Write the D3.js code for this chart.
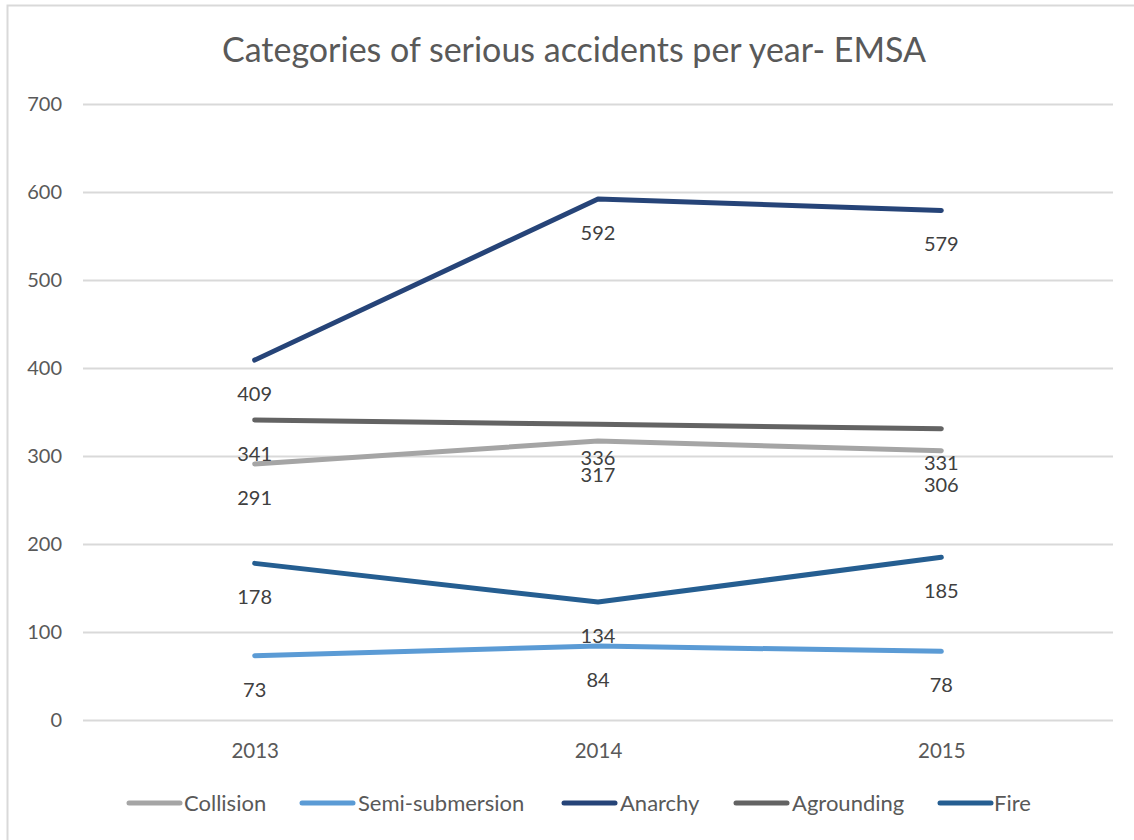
<!DOCTYPE html>
<html><head><meta charset="utf-8">
<script src="https://cdn.jsdelivr.net/npm/d3@7"></script>
<style>body{margin:0;background:#fff}svg{display:block}text{font-family:Lato,"Open Sans",sans-serif}</style>
</head><body><div id="chart"></div>
<script>
const years = ["2013", "2014", "2015"];
const seriesNames = ["Collision", "Semi-submersion", "Anarchy", "Agrounding", "Fire"];
const collision = [291, 317, 306];
const semiSubmersion = [73, 84, 78];
const anarchy = [409, 592, 579];
const agrounding = [341, 336, 331];
const fire = [178, 134, 185];
const yTicks = [0, 100, 200, 300, 400, 500, 600, 700];
const colors = ["#A5A5A5", "#5B9BD5", "#264478", "#636363", "#255E91"];
const title = "Categories of serious accidents per year- EMSA";

(function () {
const series = [collision, semiSubmersion, anarchy, agrounding, fire].map((v, i) => ({name: seriesNames[i], values: v, color: colors[i]}));

const W = 1134, H = 840;
const svg = d3.select("#chart").append("svg").attr("width", W).attr("height", H);
svg.append("rect").attr("x", 7.5).attr("y", 5.5).attr("width", W + 10).attr("height", H + 10)
  .attr("fill", "#fff").attr("stroke", "#D9D9D9").attr("stroke-width", 2);

const mL = 83, mR = 1113, mT = 104, mB = 720;
const x = d3.scalePoint().domain(years).range([mL, mR]).padding(0.5);
const y = d3.scaleLinear().domain([0, 700]).range([mB, mT]);

svg.append("text").attr("x", 574).attr("y", 62).attr("text-anchor", "middle")
  .attr("font-size", 34).attr("fill", "#595959").text(title);

const gy = svg.append("g").attr("transform", `translate(${mL},0)`)
  .call(d3.axisLeft(y).tickValues(yTicks).tickSize(-(mR - mL)).tickPadding(21));
gy.select(".domain").remove();
gy.selectAll(".tick line").attr("stroke", "#D9D9D9").attr("stroke-width", 2);
gy.selectAll(".tick text").attr("font-size", 20).attr("fill", "#595959").attr("font-family", "Lato");

const gx = svg.append("g").attr("transform", `translate(0,${mB})`)
  .call(d3.axisBottom(x).tickSize(0).tickPadding(23));
gx.select(".domain").remove();
gx.selectAll(".tick text").attr("font-size", 20.5).attr("fill", "#595959").attr("font-family", "Lato");

const line = d3.line().x((d, i) => x(years[i])).y(d => y(d));
series.forEach(s => {
  svg.append("path").datum(s.values).attr("d", line).attr("fill", "none")
    .attr("stroke", s.color).attr("stroke-width", 5).attr("stroke-linecap", "round").attr("stroke-linejoin", "round");
});
series.forEach(s => {
  svg.append("g").selectAll("text").data(s.values).join("text")
    .attr("x", (d, i) => x(years[i])).attr("y", d => y(d) + 41)
    .attr("text-anchor", "middle").attr("font-size", 20).attr("fill", "#404040").text(d => d);
});

const legendItems = [
  {sx: 126, tx: 184}, {sx: 299, tx: 358}, {sx: 561, tx: 620}, {sx: 733, tx: 792}, {sx: 937, tx: 994}
];
const lg = svg.append("g");
series.forEach((s, i) => {
  const it = legendItems[i];
  lg.append("line").attr("x1", it.sx + 3).attr("x2", it.sx + 54).attr("y1", 803).attr("y2", 803)
    .attr("stroke", s.color).attr("stroke-width", 5).attr("stroke-linecap", "round");
  lg.append("text").attr("x", it.tx).attr("y", 811).attr("font-size", 22).attr("fill", "#595959").text(s.name);
});
})();
</script></body></html>
